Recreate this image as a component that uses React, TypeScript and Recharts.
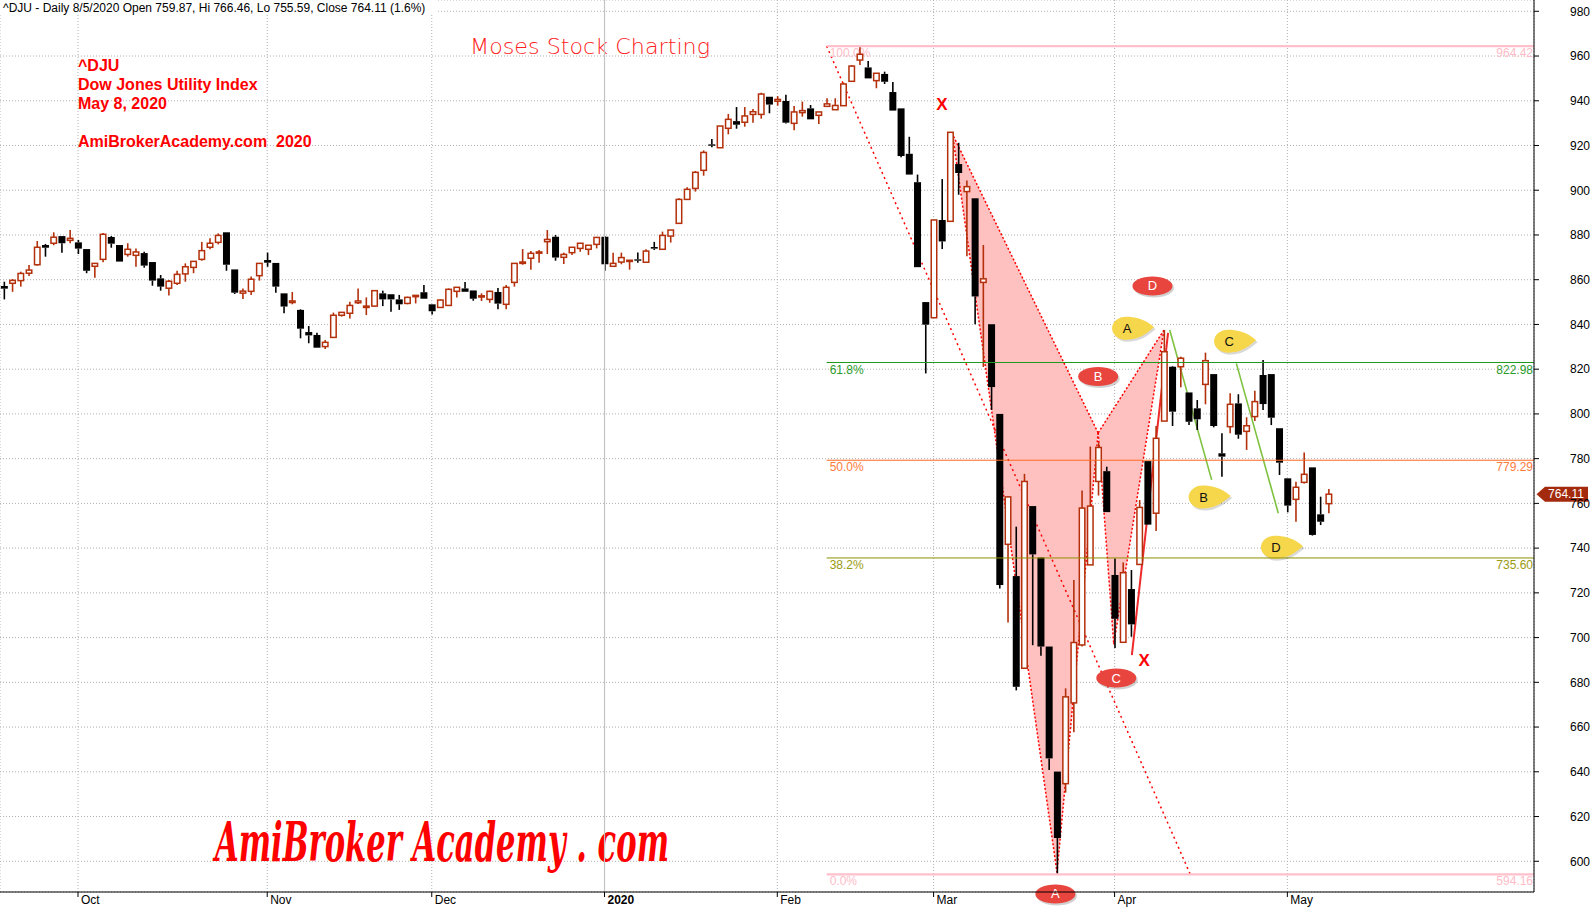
import React from 'react';
import { ComposedChart, Bar, XAxis, YAxis, CartesianGrid, ReferenceLine, ReferenceArea } from 'recharts';

const FONT = "'Liberation Sans', Arial, Helvetica, sans-serif";

const opens = [
  857.2, 858.4, 859.6, 862.9, 866.7, 875.5, 876.3, 879.5, 877.6, 876.7,
  873.7, 866.0, 869.1, 879.1, 875.5, 871.3, 870.9, 871.9, 867.9, 860.6,
  856.2, 858.4, 862.6, 865.5, 869.1, 874.5, 876.7, 881.2, 864.6, 854.0,
  854.8, 861.8, 868.8, 867.5, 853.9, 849.8, 846.5, 836.6, 835.3, 830.1,
  834.2, 844.1, 845.0, 849.7, 847.6, 848.2, 853.9, 853.5, 851.2, 849.4,
  852.4, 854.4, 849.0, 847.6, 848.5, 854.8, 856.1, 855.2, 852.5, 851.2,
  854.5, 849.0, 858.8, 867.3, 869.6, 872.1, 877.0, 879.2, 870.0, 872.1,
  874.0, 873.6, 875.8, 879.2, 866.0, 867.9, 868.2, 869.1, 867.8, 874.6,
  873.6, 879.5, 885.2, 895.9, 900.8, 908.9, 920.5, 919.0, 927.7, 930.9,
  930.4, 933.9, 933.9, 941.8, 939.8, 939.9, 929.9, 934.7, 936.6, 933.5,
  937.5, 936.0, 937.8, 948.7, 958.2, 954.9, 949.0, 952.0, 943.9, 936.6,
  916.3, 903.6, 850.0, 843.0, 886.7, 886.1, 911.7, 899.4, 896.4, 858.8,
  840.1, 800.0, 741.7, 727.5, 686.3, 758.8, 735.8, 696.0, 640.1, 634.7,
  670.8, 696.7, 732.5, 769.8, 774.4, 728.0, 697.9, 721.7, 732.7, 778.9,
  755.6, 796.8, 821.1, 821.1, 809.6, 802.5, 813.2, 817.8, 782.4, 794.3,
  804.7, 792.2, 798.8, 817.4, 817.8, 793.6, 771.2, 761.8, 769.4, 776.1,
  755.1, 759.87,
];
const highs = [
  859.1, 860.3, 863.6, 866.6, 877.3, 876.0, 881.2, 879.5, 882.2, 877.8,
  873.7, 867.3, 880.9, 879.5, 875.5, 876.3, 874.0, 872.5, 867.9, 862.1,
  859.9, 864.0, 867.3, 868.2, 876.9, 878.5, 880.7, 881.2, 864.6, 856.1,
  861.4, 867.3, 872.1, 867.5, 853.9, 854.5, 846.8, 839.3, 836.3, 833.0,
  845.3, 845.6, 850.2, 856.1, 852.1, 855.4, 855.1, 853.5, 853.2, 852.4,
  853.0, 857.6, 849.0, 851.2, 856.1, 856.6, 859.0, 855.2, 853.9, 855.1,
  856.3, 857.6, 867.3, 873.7, 872.8, 873.3, 882.2, 880.0, 872.1, 874.5,
  876.3, 875.4, 878.9, 879.5, 872.1, 872.1, 868.7, 872.2, 873.6, 876.9,
  881.5, 882.2, 896.4, 901.3, 908.6, 917.8, 922.9, 928.7, 934.1, 937.2,
  937.2, 936.3, 943.6, 941.8, 942.1, 942.7, 937.7, 939.6, 938.1, 935.0,
  941.1, 941.1, 948.1, 956.0, 964.42, 957.8, 952.3, 953.0, 948.4, 936.6,
  923.9, 907.0, 850.0, 886.7, 905.0, 925.9, 921.2, 904.3, 896.4, 875.5,
  840.1, 800.0, 762.9, 749.6, 773.2, 758.8, 735.8, 696.0, 640.1, 677.3,
  725.7, 765.8, 785.4, 787.2, 776.4, 735.4, 733.6, 730.2, 761.5, 778.9,
  794.6, 837.5, 821.4, 825.6, 809.6, 806.2, 827.4, 817.8, 791.3, 809.2,
  808.8, 798.5, 810.4, 824.1, 817.8, 793.6, 771.2, 769.7, 782.8, 776.1,
  763.0, 766.46,
];
const lows = [
  851.2, 854.6, 856.9, 861.7, 866.3, 870.3, 875.4, 872.1, 876.3, 871.5,
  862.9, 860.9, 867.8, 874.3, 868.1, 870.3, 865.8, 865.4, 857.3, 855.1,
  852.9, 857.6, 859.1, 862.9, 868.5, 873.6, 875.8, 864.0, 853.6, 851.4,
  853.2, 859.6, 865.8, 854.2, 845.0, 849.0, 833.8, 831.6, 829.6, 829.0,
  834.2, 843.5, 842.7, 849.1, 844.2, 847.9, 848.2, 845.7, 846.5, 849.0,
  849.4, 851.5, 844.4, 847.6, 848.5, 852.1, 854.6, 850.6, 850.5, 849.7,
  846.8, 846.8, 856.9, 866.7, 864.5, 867.6, 871.5, 868.5, 867.0, 871.0,
  872.5, 871.0, 874.0, 864.0, 866.0, 866.9, 864.5, 867.6, 867.8, 873.3,
  873.6, 876.6, 885.2, 895.9, 899.4, 906.5, 919.2, 919.0, 925.0, 927.5,
  928.4, 930.2, 932.0, 934.4, 937.8, 929.8, 926.8, 932.9, 931.7, 929.6,
  937.5, 936.0, 937.8, 948.7, 956.0, 950.0, 945.6, 947.5, 935.6, 914.7,
  907.0, 865.6, 818.1, 843.0, 873.7, 886.1, 898.0, 870.5, 840.1, 821.0,
  801.8, 721.9, 706.8, 676.4, 686.3, 696.6, 691.9, 640.8, 594.16, 630.7,
  657.7, 696.0, 732.5, 763.5, 756.1, 695.3, 697.9, 700.4, 732.7, 750.5,
  747.6, 796.8, 794.6, 811.9, 795.0, 792.8, 804.3, 794.0, 771.9, 791.3,
  788.9, 783.9, 796.8, 801.7, 795.0, 772.7, 756.0, 751.8, 768.9, 745.6,
  750.3, 755.59,
];
const closes = [
  856.0, 859.7, 862.8, 864.3, 874.5, 874.3, 879.0, 876.3, 878.5, 873.9,
  864.0, 867.3, 880.3, 876.1, 868.1, 873.6, 872.4, 866.3, 859.6, 856.9,
  859.3, 862.4, 865.8, 868.2, 873.0, 876.3, 879.8, 866.7, 854.2, 854.9,
  860.2, 867.3, 867.6, 856.9, 848.0, 850.5, 838.1, 835.1, 829.6, 832.0,
  844.1, 845.4, 848.5, 850.5, 848.2, 855.1, 851.2, 851.2, 849.0, 852.1,
  853.0, 851.5, 845.9, 850.9, 855.7, 856.6, 854.6, 851.5, 852.8, 854.8,
  849.3, 856.6, 867.3, 867.9, 871.8, 872.4, 878.0, 869.9, 871.3, 874.5,
  876.3, 875.4, 878.9, 866.9, 867.3, 869.9, 868.7, 868.5, 872.8, 873.9,
  879.8, 882.2, 895.9, 900.4, 908.0, 916.9, 919.9, 928.7, 931.7, 929.3,
  933.2, 935.1, 943.0, 938.3, 940.6, 930.2, 935.0, 935.6, 931.7, 935.0,
  938.6, 937.9, 947.5, 955.5, 960.8, 950.0, 952.3, 948.5, 935.6, 915.3,
  907.0, 865.6, 839.9, 886.7, 877.1, 925.9, 907.7, 901.6, 852.5, 860.4,
  812.0, 723.5, 762.9, 678.0, 769.8, 737.2, 696.0, 646.0, 610.4, 673.5,
  697.8, 757.9, 758.8, 785.0, 756.1, 708.4, 729.0, 705.9, 758.2, 750.5,
  789.1, 827.8, 801.0, 824.9, 796.5, 797.6, 823.8, 794.6, 780.9, 804.3,
  790.7, 794.7, 805.5, 804.4, 798.3, 778.2, 759.0, 767.2, 773.0, 745.9,
  751.8, 764.11,
];

const monthTicks = [9, 32, 52, 73, 94, 113, 135, 156];
const monthLabels = ['Oct', 'Nov', 'Dec', '2020', 'Feb', 'Mar', 'Apr', 'May'];
const yearTick = 73;
const priceTicks = [600, 620, 640, 660, 680, 700, 720, 740, 760, 780, 800, 820, 840, 860, 880, 900, 920, 940, 960, 980];

const fibPercents = ['100.0%', '61.8%', '50.0%', '38.2%', '0.0%'];
const fibValues = [964.42, 822.98, 779.29, 735.6, 594.16];
const fibStartIndex = 100;
const fibEndIndex = 144.2;

const patternIndex = [115.3, 128, 133, 134.9, 141]; // X A B C D
const patternValue = [925, 595, 791.5, 697, 837.5];

const redTagText = ['D', 'B', 'C', 'A'];
const redTagIndex = [139.6, 133.0, 135.2, 127.8];
const redTagValue = [857.2, 816.7, 681.9, 585.4];

const yellowTagText = ['A', 'C', 'B', 'D'];
const yellowTagIndex = [136.4, 148.8, 145.7, 154.5];
const yellowTagValue = [838.3, 832.5, 762.8, 740.4];

const xMarkIndex = [114.0, 138.6];
const xMarkValue = [938.5, 689.8];

const greenLegs = [
  [141.7, 837.5, 146.8, 770.5],
  [149.8, 822.6, 154.9, 755.6],
];
const redLeg = [137.1, 692.2, 141.5, 836.2];

const infoLines = ['^DJU', 'Dow Jones Utility Index', 'May 8, 2020', '', 'AmiBrokerAcademy.com  2020'];
const titleText = '^DJU - Daily 8/5/2020 Open 759.87, Hi 766.46, Lo 755.59, Close 764.11 (1.6%)';

const X_MIN = -0.481;
const X_MAX = 185.98;
const Y_MIN = 586.26;
const Y_MAX = 985.05;

const data = opens.map((o, i) => ({
  i,
  open: o,
  high: highs[i],
  low: lows[i],
  close: closes[i],
  range: [lows[i], highs[i]],
}));

const UP = '#b3300a';
const DOWN = '#000000';
const fibColors = ['#ffc0cb', '#1f9a1f', '#ff6a22', '#8f8f00', '#ffc0cb'];
const fibTextColors = ['#ffbcc8', '#2a9a2a', '#ff7a3a', '#9a9a10', '#ffbcc8'];
const fibWidths = [2.2, 1, 1, 1, 2.2];

const Candle = (props: any) => {
  const { x, y, width, height } = props;
  const p = props.payload || props;
  const { open, close, high, low } = p;
  const top = Math.min(y, y + height);
  const h = Math.abs(height);
  const ppu = h / (high - low || 1);
  const yO = top + (high - open) * ppu;
  const yC = top + (high - close) * ppu;
  const up = close >= open;
  const color = up ? UP : DOWN;
  const cx = x + width / 2;
  const bTop = Math.min(yO, yC);
  const bh = Math.max(Math.abs(yO - yC), 1.2);
  return (
    <g>
      <line x1={cx} x2={cx} y1={top} y2={bTop} stroke={color} strokeWidth={1.6} />
      <line x1={cx} x2={cx} y1={bTop + bh} y2={top + h} stroke={color} strokeWidth={1.6} />
      {up ? (
        <rect x={x + 0.75} y={bTop} width={width - 1.5} height={bh} fill="#ffffff" stroke={color} strokeWidth={1.5} />
      ) : (
        <rect x={x} y={bTop} width={width} height={bh} fill={color} />
      )}
    </g>
  );
};

const FRAME = { x1: 100, x2: 160, y1: 600, y2: 960 };
const mapper = (p: any) => {
  const { x, y, width, height } = p;
  return {
    X: (i: number) => x + ((i - FRAME.x1) / (FRAME.x2 - FRAME.x1)) * width,
    Y: (v: number) => y + ((FRAME.y2 - v) / (FRAME.y2 - FRAME.y1)) * height,
  };
};

const BackLayer = (p: any) => {
  const { X, Y } = mapper(p);
  const pt = (k: number) => `${X(patternIndex[k])},${Y(patternValue[k])}`;
  const edges = [[0, 1], [1, 2], [2, 0], [2, 3], [3, 4], [4, 2]];
  return (
    <g>
      <polygon points={`${pt(0)} ${pt(1)} ${pt(2)}`} fill="#ffc0c0" />
      <polygon points={`${pt(2)} ${pt(3)} ${pt(4)}`} fill="#ffc0c0" />
      {edges.map(([a, b], k) => (
        <line key={k} x1={X(patternIndex[a])} y1={Y(patternValue[a])} x2={X(patternIndex[b])} y2={Y(patternValue[b])}
          stroke="#ff0000" strokeWidth={1.5} strokeDasharray="2 2" />
      ))}
      <line x1={X(fibStartIndex)} y1={Y(fibValues[0])} x2={X(fibEndIndex)} y2={Y(fibValues[4])}
        stroke="#ff0000" strokeWidth={1.5} strokeDasharray="2 3.5" />
    </g>
  );
};

const FrontLayer = (p: any) => {
  const { X, Y } = mapper(p);
  const right = X(X_MAX);
  const last = closes.length - 1;
  const tagY = Y(closes[last]);
  return (
    <g>
      {fibValues.map((v, k) => (
        <g key={k}>
          <text x={X(fibStartIndex) + 3} y={Y(v) + 11} fontSize={12} fontFamily={FONT} fill={fibTextColors[k]}>{fibPercents[k]}</text>
          <text x={right - 1} y={Y(v) + 11} fontSize={12} fontFamily={FONT} fill={fibTextColors[k]} textAnchor="end">{v.toFixed(2)}</text>
        </g>
      ))}
      {greenLegs.map((g, k) => (
        <line key={k} x1={X(g[0])} y1={Y(g[1])} x2={X(g[2])} y2={Y(g[3])} stroke="#7fc241" strokeWidth={1.6} />
      ))}
      <line x1={X(redLeg[0])} y1={Y(redLeg[1])} x2={X(redLeg[2])} y2={Y(redLeg[3])} stroke="#ee2a2a" strokeWidth={2} />
      {redTagText.map((t, k) => {
        const cx = X(redTagIndex[k]);
        const cy = Y(redTagValue[k]);
        return (
          <g key={k}>
            <ellipse cx={cx + 1.5} cy={cy + 2} rx={20} ry={9.5} fill="rgba(0,0,0,0.18)" />
            <ellipse cx={cx} cy={cy} rx={20} ry={9.5} fill="#e8453f" />
            <text x={cx} y={cy + 4.5} fontSize={13} fontFamily={FONT} fill="#ffffff" textAnchor="middle">{t}</text>
          </g>
        );
      })}
      {yellowTagText.map((t, k) => {
        const cx = X(yellowTagIndex[k]);
        const cy = Y(yellowTagValue[k]);
        const d = `M ${cx + 28} ${cy - 1} C ${cx + 18} ${cy - 10} ${cx + 8} ${cy - 11.5} ${cx} ${cy - 11.5} A 14 11.5 0 0 0 ${cx} ${cy + 11.5} C ${cx + 9} ${cy + 11.5} ${cx + 18} ${cy + 8} ${cx + 28} ${cy - 1} Z`;
        return (
          <g key={k}>
            <path d={d} transform="translate(1.5,2)" fill="rgba(0,0,0,0.15)" />
            <path d={d} fill="#f6d64a" />
            <text x={cx + 1} y={cy + 4.5} fontSize={13} fontFamily={FONT} fill="#111111" textAnchor="middle">{t}</text>
          </g>
        );
      })}
      {xMarkIndex.map((xi, k) => (
        <text key={k} x={X(xi)} y={Y(xMarkValue[k]) + 6} fontSize={17} fontWeight="bold" fontFamily={FONT} fill="#ff0000" textAnchor="middle">X</text>
      ))}
      <g>
        <polygon points={`${right + 2.5},${tagY} ${right + 11},${tagY - 7.5} ${right + 54},${tagY - 7.5} ${right + 54},${tagY + 7.5} ${right + 11},${tagY + 7.5}`} fill="#a32a0c" />
        <text x={right + 32} y={tagY + 4.3} fontSize={12} fontFamily={FONT} fill="#ffffff" textAnchor="middle">{closes[last].toFixed(2)}</text>
      </g>
      <rect x={0} y={0} width={437} height={15} fill="#ffffff" />
      <text x={3} y={11.5} fontSize={12} fontFamily={FONT} fill="#000000">{titleText}</text>
      {infoLines.map((t, k) => (
        <text key={k} x={78} y={71 + k * 19} fontSize={16} fontWeight="bold" fontFamily={FONT} fill="#ff0000" style={{ whiteSpace: 'pre' }}>{t}</text>
      ))}
      <text x={470} y={54} fontSize={21} fontFamily="'DejaVu Sans', sans-serif" fontWeight={300} fill="#ff2020" textLength={240} lengthAdjust="spacingAndGlyphs">Moses Stock Charting</text>
      <text x={215} y={861} fontSize={54} fontWeight="bold" fontStyle="italic" fontFamily="'DejaVu Serif', 'Liberation Serif', serif" fill="#ff0000" textLength={454} lengthAdjust="spacingAndGlyphs">AmiBroker Academy . com</text>
    </g>
  );
};

const MonthTick = (props: any) => {
  const { x, y, payload } = props;
  const k = monthTicks.indexOf(payload.value);
  return (
    <text x={x + 3} y={y + 6.5} fontSize={12} fontFamily={FONT} fill="#000" fontWeight={payload.value === yearTick ? 'bold' : 'normal'} textAnchor="start">
      {monthLabels[k]}
    </text>
  );
};

const PriceTick = (props: any) => {
  const { x, y, payload } = props;
  return (
    <text x={x + 41} y={y + 4.3} fontSize={12} fontFamily={FONT} fill="#000" textAnchor="middle">{payload.value}</text>
  );
};

export default function App() {
  return (
    <div style={{ position: 'absolute', left: 0, top: 0, width: 1595, height: 908, background: '#ffffff' }}>
      <ComposedChart width={1595} height={908} data={data} margin={{ top: 0, right: 0, bottom: 0, left: 0 }}>
        <CartesianGrid stroke="#b0b0b0" strokeDasharray="1 2" />
        <XAxis dataKey="i" type="number" domain={[X_MIN, X_MAX]} ticks={monthTicks} interval={0} allowDataOverflow
          height={16} tickSize={5} tickMargin={0} axisLine={{ stroke: '#000' }} tickLine={{ stroke: '#000' }} tick={MonthTick} />
        <YAxis orientation="right" type="number" domain={[Y_MIN, Y_MAX]} ticks={priceTicks} interval={0} allowDataOverflow
          width={61} tickSize={5} tickMargin={0} axisLine={{ stroke: '#000' }} tickLine={{ stroke: '#000' }} tick={PriceTick} />
        <ReferenceLine x={yearTick} stroke="#c4c4c4" strokeWidth={1.2} />
        <ReferenceArea x1={FRAME.x1} x2={FRAME.x2} y1={FRAME.y1} y2={FRAME.y2} ifOverflow="visible" shape={BackLayer} />
        {fibValues.map((v, k) => (
          <ReferenceLine key={k} segment={[{ x: fibStartIndex, y: v }, { x: X_MAX, y: v }]} stroke={fibColors[k]} strokeWidth={fibWidths[k]} ifOverflow="visible" />
        ))}
        <Bar dataKey="range" shape={Candle} barSize={7} isAnimationActive={false} />
        <ReferenceArea x1={FRAME.x1} x2={FRAME.x2} y1={FRAME.y1} y2={FRAME.y2} ifOverflow="visible" shape={FrontLayer} />
      </ComposedChart>
    </div>
  );
}
